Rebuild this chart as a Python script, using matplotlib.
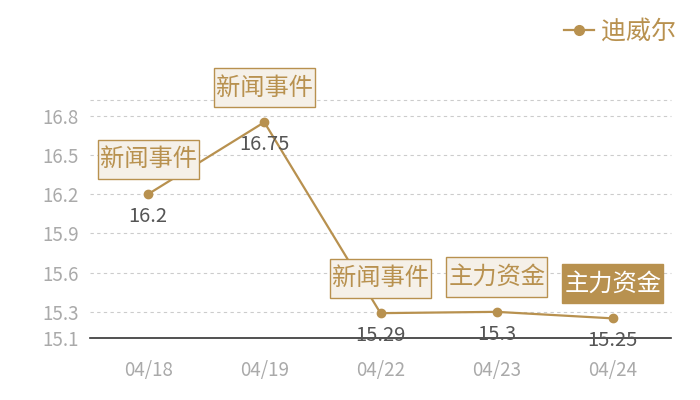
import matplotlib
matplotlib.use('Agg')
import matplotlib.pyplot as plt
from matplotlib.lines import Line2D

plt.rcParams['font.family'] = ['Noto Sans CJK SC', 'DejaVu Sans']

dates = ['04/18', '04/19', '04/22', '04/23', '04/24']
prices = [16.2, 16.75, 15.29, 15.3, 15.25]
events = ['新闻事件', '新闻事件', '新闻事件', '主力资金', '主力资金']
yticks = [15.1, 15.3, 15.6, 15.9, 16.2, 16.5, 16.8]
series_name = '迪威尔'

gold = '#b8914f'
fig = plt.figure(figsize=(7, 4), dpi=100)
ax = fig.add_axes([90/700, 1-338/400, 581/700, 238/400])

x = list(range(len(dates)))
ax.plot(x, prices, color=gold, lw=1.6, marker='o', ms=6, zorder=3)
ax.set_xlim(-0.5, len(dates)-0.5)
ax.set_ylim(15.1, 16.92)

for v in yticks[1:] + [16.92]:
    ax.axhline(v, color='#cccccc', lw=0.8, ls=(0, (3, 3)), zorder=1, clip_on=False)
ax.axhline(15.1, color='#333333', lw=1.2, zorder=2, clip_on=False)

ax.set_xticks(x)
ax.set_xticklabels(dates)
ax.set_yticks(yticks)
ax.set_yticklabels([str(t) for t in yticks])
ax.tick_params(axis='both', length=0, colors='#aaaaaa', labelsize=13.5)
ax.tick_params(axis='x', pad=16)
ax.tick_params(axis='y', pad=8)
for s in ax.spines.values():
    s.set_visible(False)

for i, (p, e) in enumerate(zip(prices, events)):
    ax.annotate(str(p), (i, p), xytext=(0, -16), textcoords='offset points',
                ha='center', va='center', fontsize=14.5, color='#555555', zorder=4)
    last = i == len(prices) - 1
    ax.annotate(e, (i, p), xytext=(0, 25), textcoords='offset points',
                ha='center', va='center', fontsize=17.5,
                color='white' if last else gold, zorder=5,
                bbox=dict(boxstyle='square,pad=0.08', mutation_aspect=3.5,
                          fc=gold if last else '#f5f0e8',
                          ec=gold, lw=1))

h = Line2D([], [], color=gold, marker='o', ms=7, lw=1.6)
fig.legend([h], [series_name], loc='upper right', bbox_to_anchor=(0.998, 1.01),
           frameon=False, fontsize=18, labelcolor=gold, handlelength=1.2,
           handletextpad=0.3)

fig.savefig('out.png')
